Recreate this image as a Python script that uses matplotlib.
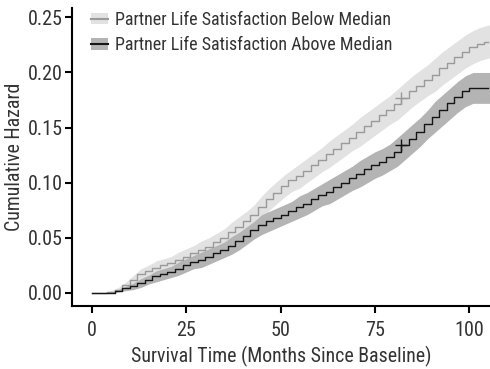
import matplotlib
matplotlib.use("Agg")
import matplotlib.pyplot as plt
from matplotlib.patches import Patch
from matplotlib.lines import Line2D
import numpy as np

plt.rcParams['font.family'] = ['Liberation Sans Narrow', 'Roboto Condensed', 'Archivo Narrow',
                               'Liberation Sans', 'DejaVu Sans']

months = [0, 2, 4, 6, 8, 10, 12, 14, 16, 18, 20, 22, 24, 26, 28, 30, 32, 34, 36, 38,
          40, 42, 44, 46, 48, 50, 52, 54, 56, 58, 60, 62, 64, 66, 68, 70, 72, 74, 76, 78,
          80, 82, 84, 86, 88, 90, 92, 94, 96, 98, 100, 102, 104, 105]

below_haz = [0.000, 0.000, 0.001, 0.003, 0.007, 0.012, 0.017, 0.020, 0.023, 0.025,
             0.027, 0.030, 0.033, 0.036, 0.039, 0.042, 0.046, 0.050, 0.055, 0.060,
             0.065, 0.071, 0.078, 0.085, 0.091, 0.097, 0.102, 0.106, 0.111, 0.116,
             0.121, 0.126, 0.131, 0.136, 0.141, 0.146, 0.151, 0.156, 0.161, 0.166,
             0.171, 0.177, 0.183, 0.188, 0.193, 0.198, 0.204, 0.209, 0.214, 0.219,
             0.223, 0.226, 0.228, 0.228]
below_hw = [0.000, 0.000, 0.001, 0.002, 0.003, 0.004, 0.005, 0.005, 0.006, 0.006,
            0.006, 0.007, 0.007, 0.007, 0.008, 0.008, 0.008, 0.008, 0.009, 0.009,
            0.009, 0.009, 0.010, 0.010, 0.010, 0.010, 0.010, 0.011, 0.011, 0.011,
            0.011, 0.012, 0.012, 0.012, 0.012, 0.013, 0.013, 0.013, 0.013, 0.013,
            0.014, 0.014, 0.014, 0.014, 0.014, 0.015, 0.015, 0.015, 0.015, 0.015,
            0.015, 0.015, 0.015, 0.015]

above_haz = [0.000, 0.000, 0.000, 0.002, 0.004, 0.006, 0.009, 0.012, 0.015, 0.017,
             0.019, 0.022, 0.025, 0.028, 0.030, 0.033, 0.036, 0.039, 0.043, 0.047,
             0.052, 0.057, 0.062, 0.065, 0.068, 0.071, 0.074, 0.078, 0.081, 0.085,
             0.089, 0.092, 0.096, 0.100, 0.104, 0.108, 0.112, 0.116, 0.119, 0.123,
             0.128, 0.134, 0.140, 0.146, 0.153, 0.160, 0.166, 0.172, 0.178, 0.183,
             0.186, 0.186, 0.186, 0.186]
above_hw = [0.000, 0.000, 0.000, 0.001, 0.002, 0.003, 0.004, 0.004, 0.005, 0.005,
            0.005, 0.006, 0.006, 0.006, 0.007, 0.007, 0.007, 0.007, 0.008, 0.008,
            0.008, 0.008, 0.009, 0.009, 0.009, 0.009, 0.009, 0.010, 0.010, 0.010,
            0.010, 0.011, 0.011, 0.011, 0.011, 0.012, 0.012, 0.012, 0.012, 0.012,
            0.013, 0.013, 0.013, 0.013, 0.013, 0.014, 0.014, 0.014, 0.014, 0.014,
            0.014, 0.014, 0.014, 0.014]

censor_time = 82
labels = ["Partner Life Satisfaction Below Median", "Partner Life Satisfaction Above Median"]
x_ticks = [0, 25, 50, 75, 100]
y_ticks = [0.00, 0.05, 0.10, 0.15, 0.20, 0.25]

fig = plt.figure(figsize=(4.9, 3.69), dpi=100)
ax = fig.add_axes([0.147, 0.171, 0.853, 0.807])

t = np.array(months)
series = [
    (np.array(below_haz), np.array(below_hw), '#9a9a9a', '#e2e2e2', 1.0),
    (np.array(above_haz), np.array(above_hw), '#151515', '#b4b4b4', 1.0),
]
for haz, hw, lc, fc, lw in series:
    ax.fill_between(t + 1, haz - hw, haz + hw, color=fc, linewidth=0, zorder=1)
for haz, hw, lc, fc, lw in series:
    ax.step(t, haz, where='post', color=lc, linewidth=lw, zorder=3)
    ci = months.index(censor_time)
    ax.plot([censor_time], [haz[ci]], marker='+', color=lc, markersize=8,
            markeredgewidth=1.0, linestyle='none', zorder=4)

ax.set_xlim(-5.3, 105.5)
ax.set_ylim(-0.0118, 0.2584)
ax.set_xticks(x_ticks)
ax.set_xticklabels([str(v) for v in x_ticks])
ax.set_yticks(y_ticks)
ax.set_yticklabels([f"{v:.2f}" for v in y_ticks])
for s in ['top', 'right']:
    ax.spines[s].set_visible(False)
for s in ['left', 'bottom']:
    ax.spines[s].set_linewidth(1.5)
ax.tick_params(axis='both', width=1.5, length=5, labelsize=14.5, color='black',
               labelcolor='#333333')
ax.tick_params(axis='x', pad=6)
ax.tick_params(axis='y', pad=1.5)
ax.set_xlabel("Survival Time (Months Since Baseline)", fontsize=14.3, color='#333333', labelpad=4)
ax.set_ylabel("Cumulative Hazard", fontsize=14.3, color='#333333', labelpad=3)

handles = []
for haz, hw, lc, fc, lw in series:
    handles.append((Patch(facecolor=fc, edgecolor='none'),
                    Line2D([], [], color=lc, linewidth=1.5)))
leg = ax.legend(handles, labels, loc='upper left', bbox_to_anchor=(0.046, 0.99),
                frameon=False, fontsize=13, handlelength=0.9, handleheight=0.6,
                handletextpad=0.4, labelspacing=0.4, borderaxespad=0, borderpad=0)
for txt in leg.get_texts():
    txt.set_color('#333333')

fig.savefig("out.png", dpi=100)
